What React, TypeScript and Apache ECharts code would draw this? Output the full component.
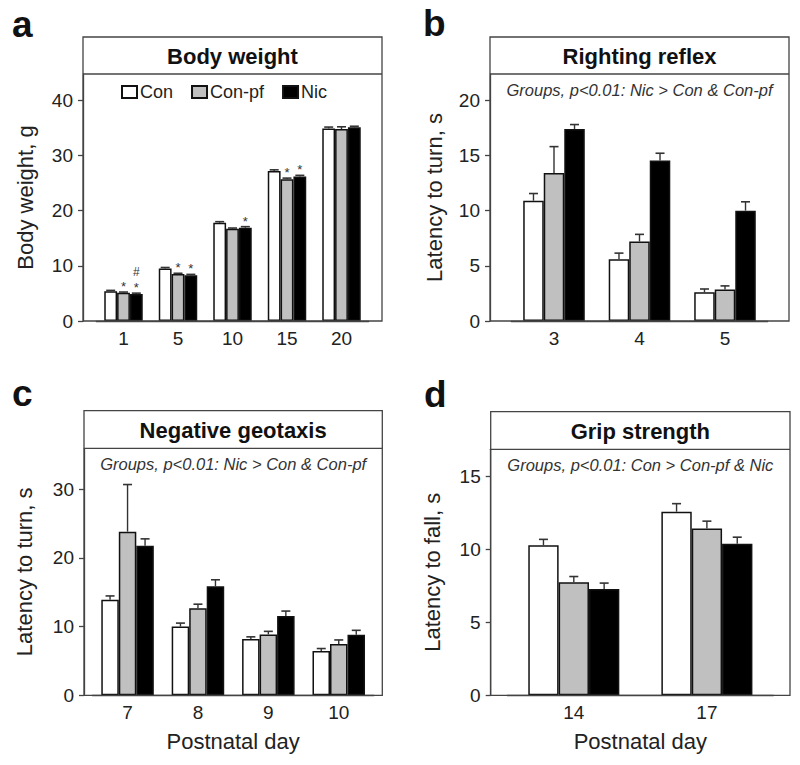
import React, { useEffect, useRef } from "react";
import * as echarts from "echarts";

// ---------- data ----------
const groups = ["Con", "Con-pf", "Nic"];

// a: Body weight
const bwDays = ["1", "5", "10", "15", "20"];
const bwCon = [5.4, 9.5, 17.8, 27.2, 34.9];
const bwConErr = [0.15, 0.2, 0.2, 0.2, 0.25];
const bwConPf = [5.1, 8.5, 16.7, 25.7, 34.8];
const bwConPfErr = [0.15, 0.15, 0.15, 0.2, 0.4];
const bwNic = [4.9, 8.3, 16.9, 26.2, 35.1];
const bwNicErr = [0.15, 0.15, 0.2, 0.2, 0.2];
const bwConPfStars = ["*", "*", "", "*", ""];
const bwNicStars = ["*", "*", "*", "*", ""];
const bwNicHashes = ["#", "", "", "", ""];
const bwTicks = [0, 10, 20, 30, 40];

// b: Righting reflex
const rrDays = ["3", "4", "5"];
const rrCon = [10.9, 5.6, 2.6];
const rrConErr = [0.65, 0.55, 0.3];
const rrConPf = [13.4, 7.2, 2.85];
const rrConPfErr = [2.4, 0.65, 0.33];
const rrNic = [17.4, 14.55, 10.0];
const rrNicErr = [0.4, 0.65, 0.8];
const rrTicks = [0, 5, 10, 15, 20];

// c: Negative geotaxis
const ngDays = ["7", "8", "9", "10"];
const ngCon = [13.9, 10.0, 8.2, 6.45];
const ngConErr = [0.55, 0.5, 0.3, 0.35];
const ngConPf = [23.8, 12.65, 8.85, 7.45];
const ngConPfErr = [6.85, 0.6, 0.45, 0.6];
const ngNic = [21.75, 15.85, 11.55, 8.8];
const ngNicErr = [1.0, 0.95, 0.7, 0.65];
const ngTicks = [0, 10, 20, 30];

// d: Grip strength
const gsDays = ["14", "17"];
const gsCon = [10.3, 12.6];
const gsConErr = [0.4, 0.55];
const gsConPf = [7.75, 11.45];
const gsConPfErr = [0.4, 0.5];
const gsNic = [7.3, 10.4];
const gsNicErr = [0.4, 0.45];
const gsTicks = [0, 5, 10, 15];

// ---------- layout / style ----------
const FONT = "'Liberation Sans', Arial, Helvetica, sans-serif";
const TEXT = "#222";
const FRAME = "#444";
const fills = ["#ffffff", "#c0c0c0", "#000000"];

const panels = [
  {
    letter: "a", letterXY: [12, 24],
    box: [83, 37, 382, 321], band: 74,
    gridLeft: 96.25, gridWidth: 272.5, max: 44.77, gap: 29.4,
    cats: bwDays, ticks: bwTicks, title: "Body weight", stat: "",
    yName: "Body weight, g", yNameGap: 47, xName: "",
    vals: [bwCon, bwConPf, bwNic], errs: [bwConErr, bwConPfErr, bwNicErr],
    stars: [null, bwConPfStars, bwNicStars],
    hashes: [null, null, bwNicHashes],
  },
  {
    letter: "b", letterXY: [423, 23],
    box: [490, 37, 789, 321], band: 74,
    gridLeft: 511.25, gridWidth: 256.5, max: 22.38, gap: 28,
    cats: rrDays, ticks: rrTicks, title: "Righting reflex",
    stat: "Groups, p<0.01: Nic > Con & Con-pf",
    yName: "Latency to turn, s", yNameGap: 45, xName: "",
    vals: [rrCon, rrConPf, rrNic], errs: [rrConErr, rrConPfErr, rrNicErr],
    stars: [null, null, null],
    hashes: [null, null, null],
  },
  {
    letter: "c", letterXY: [12, 393],
    box: [84, 410.7, 382.3, 695.3], band: 448.3,
    gridLeft: 92.35, gridWidth: 281.6, max: 35.92, gap: 25.4,
    cats: ngDays, ticks: ngTicks, title: "Negative geotaxis",
    stat: "Groups, p<0.01: Nic > Con & Con-pf",
    yName: "Latency to turn, s", yNameGap: 49, xName: "Postnatal day",
    vals: [ngCon, ngConPf, ngNic], errs: [ngConErr, ngConPfErr, ngNicErr],
    stars: [null, null, null],
    hashes: [null, null, null],
  },
  {
    letter: "d", letterXY: [424, 394],
    box: [490.7, 411.7, 790, 695.3], band: 449.3,
    gridLeft: 507.25, gridWidth: 266.2, max: 16.88, gap: 31.6,
    cats: gsDays, ticks: gsTicks, title: "Grip strength",
    stat: "Groups, p<0.01: Con > Con-pf & Nic",
    yName: "Latency to fall, s", yNameGap: 47, xName: "Postnatal day",
    vals: [gsCon, gsConPf, gsNic], errs: [gsConErr, gsConPfErr, gsNicErr],
    stars: [null, null, null],
    hashes: [null, null, null],
  },
];

function buildOption() {
  const grid: any[] = [];
  const xAxis: any[] = [];
  const yAxis: any[] = [];
  const series: any[] = [];
  const graphic: any[] = [];

  panels.forEach((p, pi) => {
    const [x0, y0, x1, y1] = p.box;
    grid.push({
      left: p.gridLeft,
      width: p.gridWidth,
      top: p.band,
      height: y1 - p.band,
      containLabel: false,
    });
    xAxis.push({
      gridIndex: pi,
      type: "category",
      data: p.cats,
      axisLine: { show: true, lineStyle: { color: FRAME, width: 1.3 } },
      axisTick: { show: false },
      axisLabel: { fontSize: 19, color: TEXT, margin: 8, fontFamily: FONT },
      name: p.xName,
      nameLocation: "middle",
      nameGap: 35,
      nameTextStyle: { fontSize: 22, color: TEXT, fontFamily: FONT },
    });
    yAxis.push({
      gridIndex: pi,
      type: "value",
      min: 0,
      max: p.max,
      offset: p.gridLeft - x0,
      axisLine: { show: true, lineStyle: { color: FRAME, width: 1.3 } },
      axisTick: {
        show: true,
        inside: false,
        length: 5,
        customValues: p.ticks,
        lineStyle: { color: FRAME, width: 1.3 },
      },
      axisLabel: {
        customValues: p.ticks,
        fontSize: 19,
        color: TEXT,
        margin: 10,
        fontFamily: FONT,
      },
      splitLine: { show: false },
      name: p.yName,
      nameLocation: "middle",
      nameGap: p.yNameGap,
      nameTextStyle: { fontSize: 22, color: TEXT, fontFamily: FONT },
    });

    groups.forEach((g, gi) => {
      series.push({
        type: "bar",
        name: g,
        xAxisIndex: pi,
        yAxisIndex: pi,
        data: p.vals[gi],
        barGap: "0%",
        barCategoryGap: p.gap + "%",
        itemStyle: { color: fills[gi], borderColor: "#111", borderWidth: 1.5 },
        emphasis: { disabled: true },
        z: 2,
      });
    });

    groups.forEach((g, gi) => {
      const stars = p.stars[gi];
      const hashes = p.hashes[gi];
      const gap = p.gap;
      series.push({
        type: "custom",
        name: g + " SEM",
        xAxisIndex: pi,
        yAxisIndex: pi,
        encode: { x: 0, y: 1 },
        data: p.vals[gi].map((v, i) => [i, v, p.errs[gi][i]]),
        z: 5,
        renderItem: (params: any, api: any) => {
          const ci = api.value(0);
          const v = api.value(1);
          const e = api.value(2);
          const base = api.coord([ci, v]);
          const top = api.coord([ci, v + e]);
          const bandW = api.size([1, 0])[0];
          const bw = (bandW * (1 - gap / 100)) / 3;
          const cx = base[0] + (gi - 1) * bw;
          const children: any[] = [];
          if (e > 0) {
            children.push({
              type: "line",
              shape: { x1: cx, y1: base[1], x2: cx, y2: top[1] },
              style: { stroke: "#333", lineWidth: 1.4 },
            });
            children.push({
              type: "line",
              shape: { x1: cx - 4.5, y1: top[1], x2: cx + 4.5, y2: top[1] },
              style: { stroke: "#333", lineWidth: 1.6 },
            });
          }
          const s = stars ? stars[params.dataIndex] : "";
          if (s) {
            children.push({
              type: "text",
              x: cx,
              y: top[1] + 1,
              style: {
                text: s,
                textAlign: "center",
                textVerticalAlign: "bottom",
                fontSize: 13,
                fontFamily: FONT,
                fill: "#333",
              },
            });
          }
          const h = hashes ? hashes[params.dataIndex] : "";
          if (h) {
            children.push({
              type: "text",
              x: cx,
              y: top[1] - 15,
              style: {
                text: h,
                textAlign: "center",
                textVerticalAlign: "bottom",
                fontSize: 12,
                fontFamily: FONT,
                fill: "#333",
              },
            });
          }
          return { type: "group", children };
        },
      });
    });

    // frame
    graphic.push({
      type: "rect",
      shape: { x: x0, y: y0, width: x1 - x0, height: y1 - y0 },
      style: { fill: "none", stroke: FRAME, lineWidth: 1.3 },
      z: 10,
      silent: true,
    });
    graphic.push({
      type: "line",
      shape: { x1: x0, y1: p.band, x2: x1, y2: p.band },
      style: { stroke: FRAME, lineWidth: 1.3 },
      z: 10,
      silent: true,
    });
    graphic.push({
      type: "text",
      x: (x0 + x1) / 2,
      y: (y0 + p.band) / 2 + 1,
      style: {
        text: p.title,
        textAlign: "center",
        textVerticalAlign: "middle",
        fontSize: 22,
        fontWeight: "bold",
        fontFamily: FONT,
        fill: "#111",
      },
      z: 10,
    });
    if (p.stat) {
      graphic.push({
        type: "text",
        x: (x0 + x1) / 2,
        y: p.band + 16,
        style: {
          text: p.stat,
          textAlign: "center",
          textVerticalAlign: "middle",
          fontSize: 16.5,
          fontStyle: "italic",
          fontFamily: FONT,
          fill: "#333",
        },
        z: 10,
      });
    }
    graphic.push({
      type: "text",
      x: p.letterXY[0],
      y: p.letterXY[1],
      style: {
        text: p.letter,
        textAlign: "left",
        textVerticalAlign: "middle",
        fontSize: 37,
        fontWeight: "bold",
        fontFamily: FONT,
        fill: "#111",
      },
      z: 10,
    });
  });

  return {
    animation: false,
    backgroundColor: "#ffffff",
    textStyle: { fontFamily: FONT },
    grid,
    xAxis,
    yAxis,
    series,
    graphic,
    legend: {
      data: groups,
      left: 121,
      top: 83,
      padding: 0,
      icon: "rect",
      itemWidth: 15,
      itemHeight: 12,
      itemGap: 18,
      selectedMode: false,
      textStyle: { fontSize: 18, color: TEXT, fontFamily: FONT, padding: [0, 0, 0, -2] },
    },
  };
}

export default function App() {
  const ref = useRef<HTMLDivElement>(null);
  useEffect(() => {
    document.body.style.margin = "0";
    if (!ref.current) return;
    const chart = echarts.init(ref.current, undefined, { renderer: "svg" });
    chart.setOption(buildOption() as any);
    return () => {
      chart.dispose();
    };
  }, []);
  return <div ref={ref} style={{ width: 800, height: 765, background: "#fff" }} />;
}
